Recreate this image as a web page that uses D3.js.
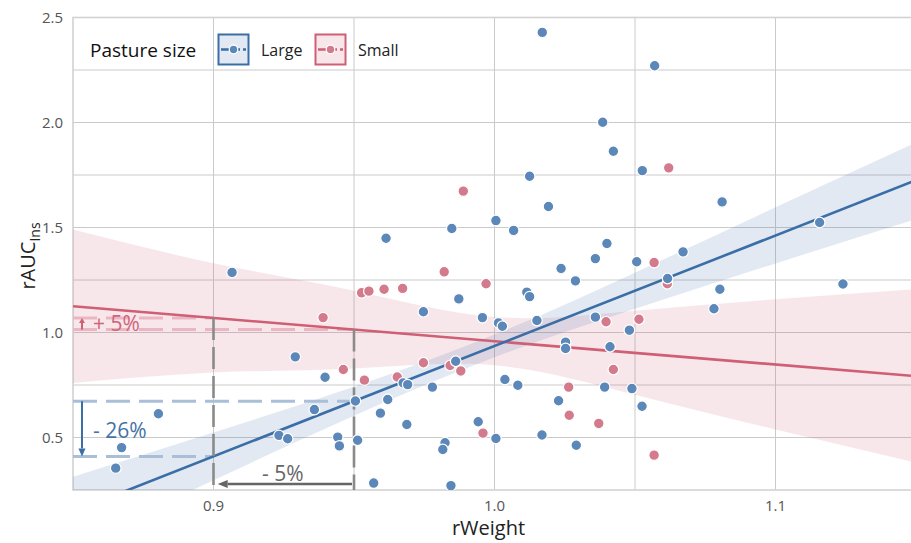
<!DOCTYPE html>
<html>
<head>
<meta charset="utf-8">
<script src="https://cdn.jsdelivr.net/npm/d3@7"></script>
<style>
  body { margin: 0; background: #fff; }
  text { font-family: "Open Sans", sans-serif; }
</style>
</head>
<body>
<div id="chart"></div>
<script>
// ---- data ----
const largeX = [1.017, 1.057, 1.0385, 1.0423, 1.0526, 1.0125, 1.0192, 1.081, 1.0005, 0.9848,
  1.0068, 0.9614, 1.040, 1.0671, 1.0359, 1.0506, 1.0616, 1.1157, 1.124, 1.0237,
  1.0288, 1.0802, 1.0115, 1.0125, 0.9873, 0.9747, 1.0781, 0.9957, 1.0151, 1.0014,
  1.0028, 1.0359, 1.048, 1.0253, 1.0253, 1.0411, 0.9862, 0.9291, 0.9397, 0.9675,
  0.9691, 1.0037, 1.0083, 0.9779, 1.0392, 1.0489, 0.962, 0.9505, 1.0228, 0.9359,
  0.9594, 0.9688, 1.0525, 0.9942, 0.9442, 0.9448, 0.9513, 0.9233, 0.9264, 1.0005,
  1.0169, 1.0291, 0.9824, 0.9816, 0.8804, 0.8673, 0.8652, 0.9066, 0.957, 0.9845];
const largeY = [2.429, 2.270, 2.001, 1.863, 1.771, 1.744, 1.600, 1.622, 1.533, 1.495,
  1.486, 1.449, 1.424, 1.384, 1.352, 1.337, 1.257, 1.524, 1.231, 1.305,
  1.246, 1.206, 1.192, 1.171, 1.160, 1.099, 1.113, 1.071, 1.057, 1.046,
  1.030, 1.073, 1.011, 0.954, 0.924, 0.932, 0.863, 0.884, 0.787, 0.760,
  0.752, 0.776, 0.749, 0.740, 0.740, 0.733, 0.681, 0.674, 0.675, 0.633,
  0.616, 0.562, 0.649, 0.575, 0.502, 0.460, 0.487, 0.510, 0.494, 0.495,
  0.512, 0.463, 0.475, 0.443, 0.613, 0.452, 0.354, 1.286, 0.283, 0.271];
const smallX = [1.062, 0.9889, 0.9821, 0.997, 0.9527, 0.9553, 0.9607, 0.9673, 1.0568, 1.0615,
  0.939, 1.0397, 1.0514, 1.0423, 0.9747, 0.9842, 0.988, 0.9462, 0.9537, 0.9654,
  1.0264, 1.0266, 1.0371, 0.9959, 1.0568];
const smallY = [1.784, 1.673, 1.289, 1.232, 1.189, 1.197, 1.206, 1.210, 1.333, 1.232,
  1.071, 1.051, 1.063, 0.824, 0.856, 0.843, 0.817, 0.824, 0.773, 0.788,
  0.740, 0.606, 0.567, 0.521, 0.416];

// fitted lines and their confidence bands
const fitX = [0.85, 1.15];
const largeFit = [0.147, 1.725];
const smallFit = [1.125, 0.792];
const bandX = [0.85, 0.9, 0.95, 1.0, 1.05, 1.1, 1.15];
const largeLo = [-0.02, 0.296, 0.604, 0.882, 1.113, 1.329, 1.54];
const largeHi = [0.313, 0.524, 0.742, 0.990, 1.285, 1.596, 1.905];
const smallLo = [0.76, 0.81, 0.829, 0.844, 0.703, 0.538, 0.38];
const smallHi = [1.49, 1.33, 1.199, 1.074, 1.103, 1.158, 1.206];

// reference weights and the fitted values there
const refX = [0.9, 0.95];
const largeRef = [0.41, 0.673];
const smallRef = [1.0695, 1.014];

const xTicks = [0.9, 1.0, 1.1];
const xMinor = [0.95, 1.05];
const yTicks = [0.5, 1.0, 1.5, 2.0, 2.5];
const yMinor = [0.75, 1.25, 1.75, 2.25];
const groups = ["Large", "Small"];

// ---- layout ----
const W = 911, H = 543;
const margin = { top: 17.5, right: -5, bottom: 53, left: 73 };
const width = W - margin.left - margin.right;
const height = H - margin.top - margin.bottom;

const col = {
  Large: { pt: "#5c88b9", line: "#3b6ea6", dash: "#a9bfd8", text: "#4572a8" },
  Small: { pt: "#d37a8c", line: "#cf5f75", dash: "#ebb6c1", text: "#d0647a" }
};

const svg = d3.select("#chart").append("svg")
  .attr("width", W).attr("height", H);

const g = svg.append("g")
  .attr("transform", "translate(" + margin.left + "," + margin.top + ")");

const x = d3.scaleLinear().domain([0.85, 1.15]).range([0, width]);
const y = d3.scaleLinear().domain([0.25, 2.5]).range([height, 0]);

g.append("clipPath").attr("id", "clip")
  .append("rect").attr("width", width).attr("height", height);

// grid
const grid = g.append("g").attr("stroke", "#cacaca").attr("stroke-width", 1);
grid.selectAll(".gx").data(xTicks.concat(xMinor)).join("line")
  .attr("x1", d => x(d)).attr("x2", d => x(d)).attr("y1", 0).attr("y2", height);
grid.selectAll(".gy").data(yTicks.concat(yMinor)).join("line")
  .attr("x1", 0).attr("x2", width).attr("y1", d => y(d)).attr("y2", d => y(d));

g.append("rect").attr("width", width).attr("height", height)
  .attr("fill", "none").attr("stroke", "#d2d2d2").attr("stroke-width", 1.6);

const plot = g.append("g").attr("clip-path", "url(#clip)");

// bands
const area = d3.area().x(d => x(d.x)).y0(d => y(d.lo)).y1(d => y(d.hi)).curve(d3.curveNatural);
const bands = {
  Small: bandX.map((v, i) => ({ x: v, lo: smallLo[i], hi: smallHi[i] })),
  Large: bandX.map((v, i) => ({ x: v, lo: largeLo[i], hi: largeHi[i] }))
};
["Small", "Large"].forEach(k => {
  plot.append("path").datum(bands[k]).attr("d", area)
    .attr("fill", col[k].line).attr("fill-opacity", 0.15);
});

// reference dashes
function hseg(yv, x1, x2, c) {
  plot.append("line").attr("x1", x(x1)).attr("x2", x(x2)).attr("y1", y(yv)).attr("y2", y(yv))
    .attr("stroke", c).attr("stroke-width", 3).attr("stroke-dasharray", "24,9");
}
hseg(largeRef[1], 0.85, refX[1], col.Large.dash);
hseg(largeRef[0], 0.85, refX[0], col.Large.dash);
hseg(smallRef[0], 0.85, refX[0], col.Small.dash);
hseg(smallRef[1], 0.85, refX[1], col.Small.dash);

// fit lines
const line = d3.line().x(d => x(d[0])).y(d => y(d[1]));
plot.append("path").datum(fitX.map((v, i) => [v, smallFit[i]])).attr("d", line)
  .attr("stroke", col.Small.line).attr("stroke-width", 2.6).attr("fill", "none");
plot.append("path").datum(fitX.map((v, i) => [v, largeFit[i]])).attr("d", line)
  .attr("stroke", col.Large.line).attr("stroke-width", 2.6).attr("fill", "none");

// vertical reference dashes
refX.forEach((v, i) => {
  plot.append("line").attr("x1", x(v)).attr("x2", x(v))
    .attr("y1", y(smallRef[i])).attr("y2", height)
    .attr("stroke", "#8a8a8a").attr("stroke-width", 2.6).attr("stroke-dasharray", "22,7");
});

// points
const pts = [];
smallX.forEach((v, i) => pts.push({ g: "Small", x: v, y: smallY[i] }));
largeX.forEach((v, i) => pts.push({ g: "Large", x: v, y: largeY[i] }));
plot.selectAll(".pt").data(pts).join("circle")
  .attr("cx", d => x(d.x)).attr("cy", d => y(d.y)).attr("r", 5.3)
  .attr("fill", d => col[d.g].pt).attr("stroke", "#fff").attr("stroke-width", 1.2);

// arrows
function arrow(x1, y1, x2, y2, c, w, hl, hw) {
  const ang = Math.atan2(y2 - y1, x2 - x1);
  const bx = x2 - hl * Math.cos(ang), by = y2 - hl * Math.sin(ang);
  g.append("line").attr("x1", x1).attr("y1", y1).attr("x2", bx).attr("y2", by)
    .attr("stroke", c).attr("stroke-width", w);
  const px = -Math.sin(ang) * hw, py = Math.cos(ang) * hw;
  g.append("path")
    .attr("d", `M${x2},${y2}L${bx + px},${by + py}L${bx - px},${by - py}Z`)
    .attr("fill", c);
}
const ax = x(0.8532);
arrow(ax, y(largeRef[1]), ax, y(largeRef[0]), col.Large.line, 2, 8, 3.5);
arrow(ax, y(smallRef[1]), ax, y(smallRef[0]), col.Small.line, 2, 5, 3);
arrow(x(0.9493), height - 6, x(0.9015), height - 6, "#666", 2.6, 10, 4);

g.append("text").attr("x", x(0.8571)).attr("y", y(1.005))
  .attr("fill", col.Small.text).attr("font-size", 21).text("+ 5%");
g.append("text").attr("x", x(0.8571)).attr("y", y(0.497))
  .attr("fill", col.Large.text).attr("font-size", 21).text("- 26%");
g.append("text").attr("x", x(0.9173)).attr("y", y(0.294))
  .attr("fill", "#666").attr("font-size", 21).text("- 5%");

// axes labels
g.selectAll(".xt").data(xTicks).join("text")
  .attr("x", d => x(d)).attr("y", height + 16).attr("dy", "0.35em")
  .attr("text-anchor", "middle").attr("font-size", 15).attr("fill", "#555")
  .text(d => d3.format(".1f")(d));
g.selectAll(".yt").data(yTicks).join("text")
  .attr("x", -10).attr("y", d => y(d)).attr("dy", "0.35em")
  .attr("text-anchor", "end").attr("font-size", 15).attr("fill", "#555")
  .text(d => d3.format(".1f")(d));

svg.append("text").attr("x", margin.left + (916 - 73) / 2 - 6).attr("y", 535)
  .attr("text-anchor", "middle").attr("font-size", 20).attr("fill", "#222").text("rWeight");

const yl = svg.append("text").attr("transform", "translate(35,256) rotate(-90)")
  .attr("text-anchor", "middle").attr("font-size", 20).attr("fill", "#222");
yl.append("tspan").text("rAUC");
yl.append("tspan").attr("font-size", 14).attr("dy", 5).text("Ins");

// legend
const leg = svg.append("g");
leg.append("text").attr("x", 90).attr("y", 57).attr("font-size", 19).attr("fill", "#111")
  .text("Pasture size");
const keyX = [218, 315], txtX = [261, 358];
groups.forEach((k, i) => {
  const kg = leg.append("g").attr("transform", `translate(${keyX[i]},34)`);
  kg.append("rect").attr("x", 0.5).attr("y", 0.5).attr("width", 30).attr("height", 30)
    .attr("fill", col[k].line).attr("fill-opacity", 0.15)
    .attr("stroke", col[k].line).attr("stroke-width", 2);
  kg.append("line").attr("x1", 3).attr("x2", 28).attr("y1", 15.5).attr("y2", 15.5)
    .attr("stroke", col[k].line).attr("stroke-width", 2.4).attr("stroke-dasharray", "8,3");
  kg.append("circle").attr("cx", 15.5).attr("cy", 15.5).attr("r", 4.3)
    .attr("fill", col[k].pt).attr("stroke", "#fff").attr("stroke-width", 1.2);
  leg.append("text").attr("x", txtX[i]).attr("y", 56).attr("font-size", 16).attr("fill", "#222")
    .text(k);
});
</script>
</body>
</html>
